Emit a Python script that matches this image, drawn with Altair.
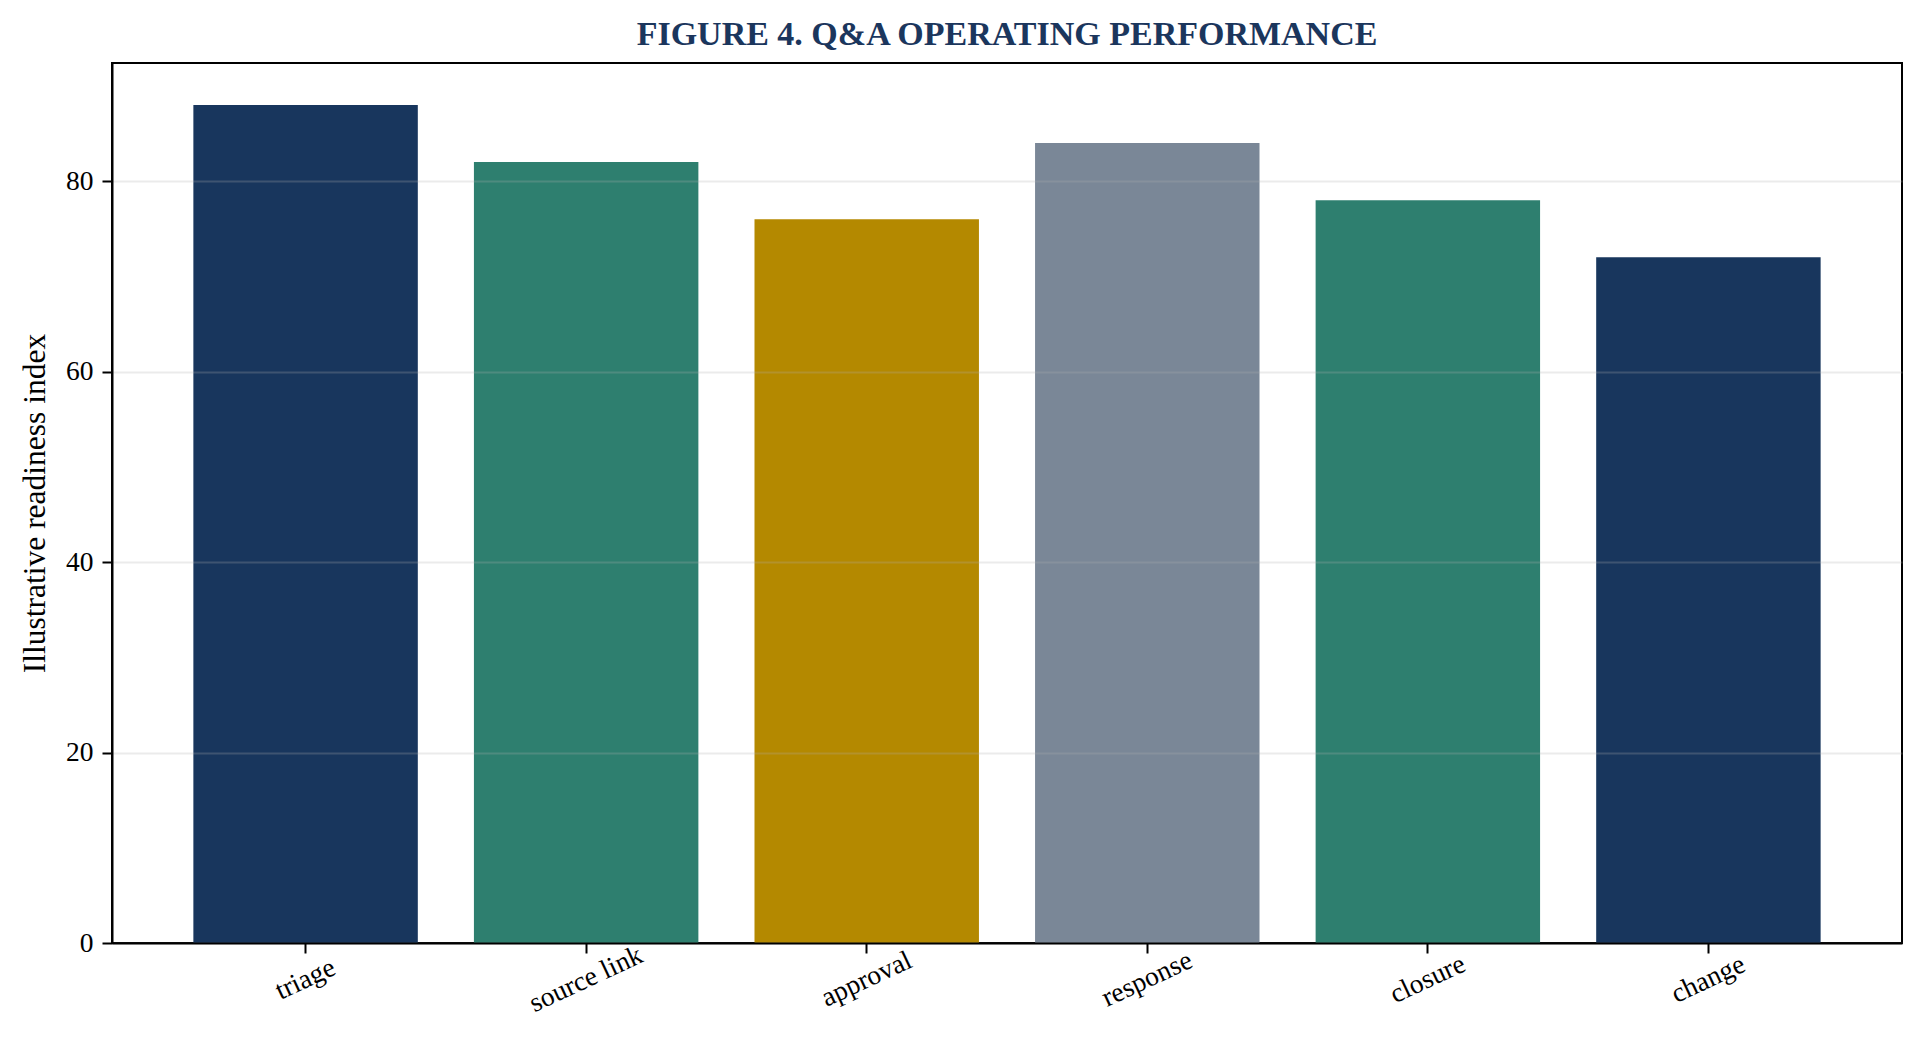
import altair as alt
import pandas as pd

stages = ["triage", "source link", "approval", "response", "closure", "change"]
readiness = [88, 82, 76, 84, 78, 72]
bar_colors = ["#18365d", "#2e7f6f", "#b48900", "#7a8797", "#2e7f6f", "#18365d"]
y_ticks = [0, 20, 40, 60, 80]

df = pd.DataFrame({"stage": stages, "value": readiness, "color": bar_colors})

SERIF = "Liberation Serif"
W, H = 1790, 880

bars = alt.Chart(df).mark_bar(cornerRadius=0).encode(
    x=alt.X(
        "stage:N",
        sort=stages,
        scale=alt.Scale(paddingInner=0.2, paddingOuter=0.29),
        axis=alt.Axis(
            title=None,
            labelAngle=-25,
            labelAlign="center",
            labelBaseline="middle",
            labelPadding=26,
            labelFont=SERIF,
            labelFontSize=27.5,
            labelColor="black",
            tickColor="black",
            tickWidth=2,
            tickSize=10,
            domainColor="black",
            domainWidth=2,
            grid=False,
            zindex=1,
        ),
    ),
    y=alt.Y(
        "value:Q",
        scale=alt.Scale(domain=[0, 92.4], nice=False, zero=True),
        axis=alt.Axis(
            title="Illustrative readiness index",
            titleFont=SERIF,
            titleFontSize=31.5,
            titleFontWeight="normal",
            titleColor="black",
            titleAngle=-90,
            titleAlign="center",
            titleBaseline="middle",
            titleX=-77,
            titleY=H / 2,
            values=y_ticks,
            labelFont=SERIF,
            labelFontSize=27.5,
            labelColor="black",
            labelPadding=9,
            tickColor="black",
            tickWidth=2,
            tickSize=10,
            domainColor="black",
            domainWidth=2,
            grid=True,
            gridColor="#b0b0b0",
            gridOpacity=0.25,
            gridWidth=2,
            zindex=1,
        ),
    ),
    color=alt.Color("color:N", scale=None, legend=None),
)

chart = bars.properties(
    width=W,
    height=H,
    background="white",
    title=alt.TitleParams(
        text="FIGURE 4. Q&A OPERATING PERFORMANCE",
        font=SERIF,
        fontSize=34,
        fontWeight="bold",
        color="#1b365d",
        anchor="middle",
        baseline="bottom",
        offset=12,
        dy=35,
    ),
    autosize=alt.AutoSizeParams(type="none"),
    padding={"left": 104, "top": 55, "right": 10, "bottom": 100},
).configure_view(
    stroke="black",
    strokeWidth=2,
)

chart.save("out.html", embed_options={"renderer": "svg", "actions": False})
